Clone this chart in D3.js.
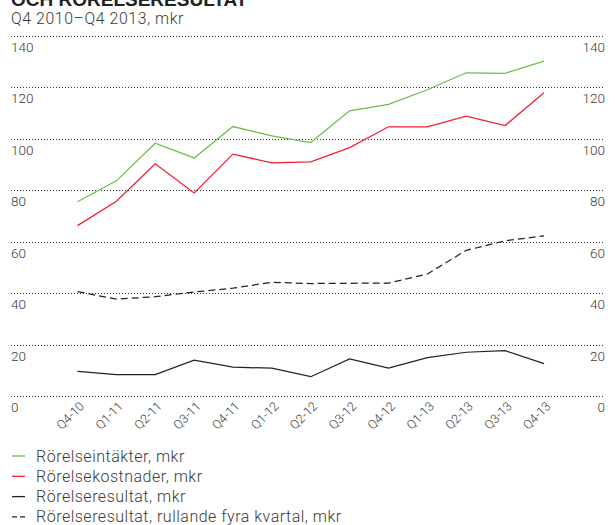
<!DOCTYPE html>
<html><head><meta charset="utf-8">
<script src="https://cdn.jsdelivr.net/npm/d3@7"></script>
<style>body{margin:0;background:#fff}svg{display:block;font-family:Roboto,"Liberation Sans",Arial,sans-serif;font-weight:300}</style>
</head><body><svg id="c" width="615" height="525"></svg>
<script>
const quarters = ["Q4-10","Q1-11","Q2-11","Q3-11","Q4-11","Q1-12","Q2-12","Q3-12","Q4-12","Q1-13","Q2-13","Q3-13","Q4-13"];
const intakter = [75.5,83.6,98.2,92.5,104.7,101.1,98.5,110.8,113.3,119.0,125.6,125.4,130.1];
const kostnader = [66.2,75.7,90.2,78.9,94.0,90.6,91.0,96.5,104.6,104.6,108.7,105.1,117.8];
const resultat = [9.6,8.3,8.3,13.9,11.2,10.8,7.5,14.4,10.8,14.9,17.0,17.6,12.6];
const rullande = [40.6,37.6,38.6,40.4,41.9,44.2,43.7,43.8,43.9,47.4,56.6,60.3,62.2];
const yTicks = [0,20,40,60,80,100,120,140];
const legendLabels = ["Rörelseintäkter, mkr","Rörelsekostnader, mkr","Rörelseresultat, mkr","Rörelseresultat, rullande fyra kvartal, mkr"];

const svg = d3.select("#c");
const x = d3.scalePoint().domain(quarters).range([77.5, 544]);
const y = d3.scaleLinear().domain([0,140]).range([396, 35.7]);
const textCol = "#3a3a3a";

svg.append("text").attr("x",11).attr("y",5.5).attr("font-weight","bold").attr("font-size",19)
  .attr("font-family","Liberation Sans, Arial, sans-serif")
  .attr("fill","#222").text("OCH RÖRELSERESULTAT");
svg.append("text").attr("x",11).attr("y",24).attr("font-size",15.8).attr("letter-spacing",0.6).attr("fill",textCol)
  .text("Q4 2010–Q4 2013, mkr");

const g = svg.append("g");
yTicks.forEach(t => {
  g.append("line").attr("x1",11).attr("x2",605).attr("y1",Math.round(y(t))+0.5).attr("y2",Math.round(y(t))+0.5)
    .attr("stroke","#333").attr("stroke-width",1).attr("stroke-dasharray","1,2");
  g.append("text").attr("x",11).attr("y",y(t)+16).attr("font-size",13.5).attr("fill",textCol).text(t);
  g.append("text").attr("x",605).attr("y",y(t)+16).attr("font-size",13.5).attr("fill",textCol)
    .attr("text-anchor","end").text(t);
});

const xa = svg.append("g").attr("transform","translate(0,407)")
  .call(d3.axisBottom(x).tickSize(0).tickPadding(0));
xa.select(".domain").remove();
xa.selectAll("text").attr("font-size",12.5).attr("fill",textCol)
  .attr("font-family","Roboto, Liberation Sans, Arial, sans-serif").attr("font-weight",300)
  .attr("text-anchor","end").attr("dy",0).attr("y",0).attr("x",0)
  .attr("transform","translate(7,0) rotate(-45)");

const line = d3.line().x((d,i)=>x(quarters[i])).y(d=>y(d));
const series = [
  {v:intakter, c:"#6abf4b", dash:null},
  {v:kostnader, c:"#f0212e", dash:null},
  {v:resultat, c:"#222", dash:null},
  {v:rullande, c:"#222", dash:"7,4"}
];
series.forEach(s => {
  svg.append("path").datum(s.v).attr("d",line).attr("fill","none").attr("stroke",s.c)
    .attr("stroke-width",1.25).attr("stroke-dasharray",s.dash);
});

legendLabels.forEach((l,i) => {
  const cy = 456 + i*20.3;
  svg.append("line").attr("x1",12).attr("x2",25).attr("y1",cy).attr("y2",cy)
    .attr("stroke",series[i].c).attr("stroke-width",1.3).attr("stroke-dasharray",series[i].dash ? "5,3" : null);
  svg.append("text").attr("x",36).attr("y",cy+5.5).attr("font-size",16).attr("letter-spacing",0.5).attr("fill",textCol).text(l);
});
</script></body></html>
